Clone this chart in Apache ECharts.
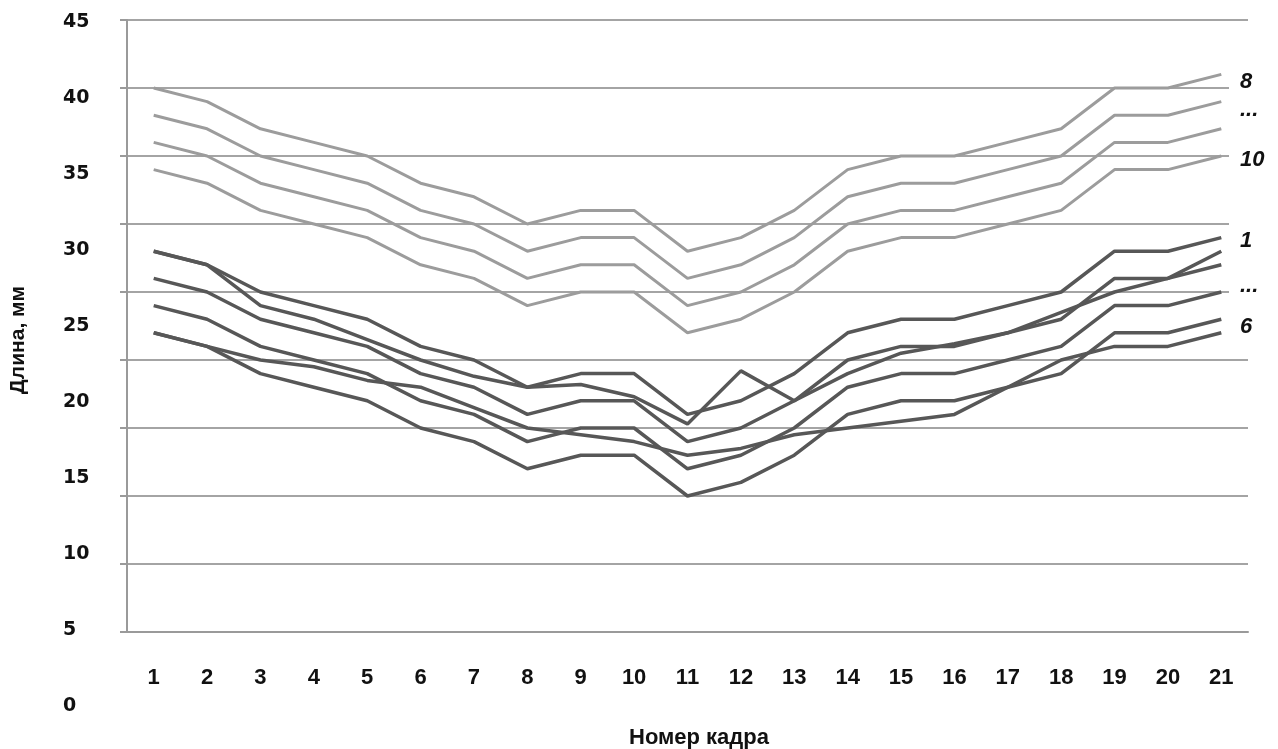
<!DOCTYPE html>
<html>
<head>
<meta charset="utf-8">
<script src="https://cdn.jsdelivr.net/npm/echarts@6/dist/echarts.min.js"></script>
<style>
html,body{margin:0;padding:0;background:#fff;}
#chart{width:1278px;height:749px;}
</style>
</head>
<body>
<div id="chart"></div>
<script>
// ---- data ----
const frames = ['1','2','3','4','5','6','7','8','9','10','11','12','13','14','15','16','17','18','19','20','21'];
const yTickLabels = ['0','5','10','15','20','25','30','35','40','45'];
// upper group (light grey)
const upperA = [40,39,37,36,35,33,32,30,31,31,28,29,31,34,35,35,36,37,40,40,41];
const upperB = [38,37,35,34,33,31,30,28,29,29,26,27,29,32,33,33,34,35,38,38,39];
const upperC = [36,35,33,32,31,29,28,26,27,27,24,25,27,30,31,31,32,33,36,36,37];
const upperD = [34,33,31,30,29,27,26,24,25,25,22,23,25,28,29,29,30,31,34,34,35];
// lower group (dark grey)
const lower1 = [28,27,25,24,23,21,20,18,19,19,16,17,19,22,23,23,24,25,28,28,29];
const lowerE = [28,27,24,23,21.5,20,18.8,18,18.2,17.3,15.3,19.2,17,19,20.5,21.2,22,23.5,25,26,28];
const lower2 = [26,25,23,22,21,19,18,16,17,17,14,15,17,20,21,21,22,23,26,26,27];
const lower3 = [24,23,21,20,19,17,16,14,15,15,12,13,15,18,19,19,20,21,24,24,25];
const lower4 = [22,21,19,18,17,15,14,12,13,13,10,11,13,16,17,17,18,19,22,22,23];
const lowerF = [22,21,20,19.5,18.5,18,16.5,15,14.5,14,13,13.5,14.5,15,15.5,16,18,20,21,21,22];
const rightLabels = ['8','...','10','1','...','6'];
const yTitle = 'Длина, мм';
const xTitle = 'Номер кадра';

const upper = [upperA, upperB, upperC, upperD];
const lower = [lower1, lowerE, lower2, lower3, lower4, lowerF];

const chart = echarts.init(document.getElementById('chart'));
const FONT = '"Liberation Sans", Arial, sans-serif';
const series = [];
upper.forEach((d, i) => series.push({
  name: 'upper' + i, type: 'line', data: d, xAxisIndex: 0, yAxisIndex: 0,
  showSymbol: false, symbol: 'none', silent: true,
  lineStyle: { color: '#9c9c9c', width: 3 }, z: 3
}));
lower.forEach((d, i) => series.push({
  name: 'lower' + i, type: 'line', data: d, xAxisIndex: 0, yAxisIndex: 0,
  showSymbol: false, symbol: 'none', silent: true,
  lineStyle: { color: '#575757', width: 3.5 }, z: 4
}));

const labelY = [82, 110, 160, 241, 286, 327];
const graphics = [
  { type: 'rect', shape: { x: 1229, y: 40, width: 49, height: 305 }, style: { fill: '#fff' }, z: 50 },
  { type: 'text', x: 18, y: 340, rotation: Math.PI / 2, z: 60,
    style: { text: yTitle, font: 'bold 21px ' + FONT, fill: '#111', textAlign: 'center', textVerticalAlign: 'middle' } },
  { type: 'text', x: 699, y: 738, z: 60,
    style: { text: xTitle, font: 'bold 22px ' + FONT, fill: '#111', textAlign: 'center', textVerticalAlign: 'middle' } }
];
rightLabels.forEach((t, i) => graphics.push({
  type: 'text', x: 1240, y: labelY[i], z: 60,
  style: { text: t, font: 'italic bold 22px ' + FONT, fill: '#111', textVerticalAlign: 'middle' }
}));

chart.setOption({
  animation: false,
  backgroundColor: '#fff',
  grid: [
    { left: 127, right: 30, top: 20, bottom: 117 },
    { left: 127, right: 30, top: 22, bottom: 43 }
  ],
  xAxis: [
    { type: 'category', gridIndex: 0, data: frames, boundaryGap: true,
      axisLine: { show: true, lineStyle: { color: '#9a9a9a', width: 2 } },
      axisTick: { show: false },
      axisLabel: { margin: 35, color: '#111', fontWeight: 'bold', fontSize: 22, fontFamily: FONT }
    },
    { type: 'category', gridIndex: 1, data: frames, show: false }
  ],
  yAxis: [
    { type: 'value', gridIndex: 0, min: 0, max: 45, interval: 5,
      axisLine: { show: true, lineStyle: { color: '#9a9a9a', width: 2 } },
      axisTick: { show: true, length: 7, lineStyle: { color: '#9a9a9a', width: 2 } },
      axisLabel: { show: false },
      splitLine: { show: true, lineStyle: { color: '#a4a4a4', width: 2 } }
    },
    { type: 'value', gridIndex: 1, min: 0, max: 45, interval: 5,
      axisLine: { show: false }, axisTick: { show: false }, splitLine: { show: false },
      axisLabel: { show: true, align: 'left', margin: 64, color: '#111', fontWeight: 'bold',
        fontSize: 19, fontFamily: '"DejaVu Sans", sans-serif',
        formatter: (v) => yTickLabels[Math.round(v / 5)] }
    }
  ],
  series: series,
  graphic: graphics
});
</script>
</body>
</html>
